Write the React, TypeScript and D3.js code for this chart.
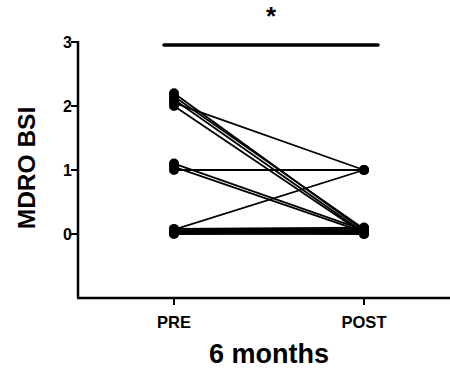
import React from "react";
import * as d3 from "d3";

const categories = ["PRE", "POST"];
const preValues = [2.2, 2.15, 2.1, 2.05, 2.0, 1.1, 1.05, 1.0, 0.08, 0.06, 0.05, 0.04, 0.03, 0.02, 0.01, 0.0, 0.07];
const postValues = [0.05, 0.08, 0.02, 1.0, 0.0, 0.06, 0.03, 1.0, 0.1, 0.08, 0.06, 0.05, 0.04, 0.02, 0.0, 0.01, 1.0];
const yTicks = [0, 1, 2, 3];
const yTitle = "MDRO BSI";
const xTitle = "6 months";
const sigLabel = "*";

export default function App() {
  const W = 450, H = 370;
  const x = d3.scalePoint<string>().domain(categories).range([174, 364]);
  const y = d3.scaleLinear().domain([-1, 3]).range([298, 42]);
  const font = "'Liberation Sans', Arial, sans-serif";
  const axisX = 78;
  return (
    <svg width={W} height={H} style={{ position: "absolute", left: 0, top: 0, background: "#fff" }} fontFamily={font}>
      {/* y axis */}
      <line x1={axisX} x2={axisX} y1={y(3) - 1} y2={y(-1)} stroke="#000" strokeWidth={2.5} />
      {yTicks.map((t) => (
        <g key={t}>
          <line x1={axisX - 7} x2={axisX} y1={y(t)} y2={y(t)} stroke="#000" strokeWidth={2} />
          <text x={axisX - 6} y={y(t)} dy="0.36em" textAnchor="end" fontSize={16} fontWeight="bold">{t}</text>
        </g>
      ))}
      {/* x axis */}
      <line x1={axisX - 1} x2={W} y1={y(-1)} y2={y(-1)} stroke="#000" strokeWidth={2.5} />
      {categories.map((c) => (
        <g key={c}>
          <line x1={x(c)} x2={x(c)} y1={y(-1)} y2={y(-1) + 7} stroke="#000" strokeWidth={2} />
          <text x={x(c)} y={328} textAnchor="middle" fontSize={16.5} fontWeight="bold">{c}</text>
        </g>
      ))}
      <text x={269} y={363} textAnchor="middle" fontSize={27} fontWeight="bold">{xTitle}</text>
      <text transform={`translate(35,168) rotate(-90)`} textAnchor="middle" fontSize={24.5} fontWeight="bold">{yTitle}</text>
      {/* significance */}
      <line x1={164} x2={378} y1={45} y2={45} stroke="#000" strokeWidth={3.5} strokeLinecap="round" />
      <text x={271} y={25} textAnchor="middle" fontSize={26} fontWeight="bold">{sigLabel}</text>
      {/* paired lines */}
      {preValues.map((p, i) => (
        <line key={"l" + i} x1={x("PRE")} y1={y(p)} x2={x("POST")} y2={y(postValues[i])} stroke="#000" strokeWidth={1.8} />
      ))}
      {preValues.map((p, i) => (
        <circle key={"a" + i} cx={x("PRE")} cy={y(p)} r={5} fill="#000" />
      ))}
      {postValues.map((p, i) => (
        <circle key={"b" + i} cx={x("POST")} cy={y(p)} r={5} fill="#000" />
      ))}
    </svg>
  );
}
